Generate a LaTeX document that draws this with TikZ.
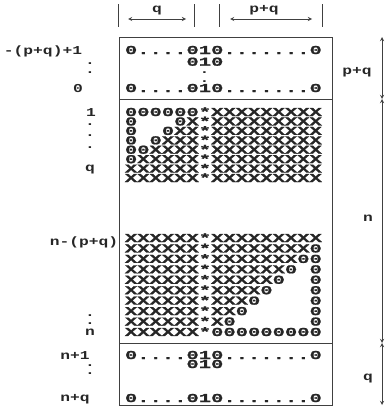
\documentclass[tikz,border=0pt]{standalone}
\usepackage{fontspec}
\newfontfamily\dotfont[FakeStretch=1.7, FakeBold=1.2]{Liberation Mono}
\newfontfamily\labfont[FakeStretch=1.35]{Liberation Mono}
\usetikzlibrary{arrows, positioning}

\begin{document}
\begin{tikzpicture}[x=0.3mm, y=-0.3mm,
    cell/.style={anchor=base west, inner sep=0pt, text=black!85,
        font=\dotfont\bfseries\fontsize{10.3}{12}\selectfont},
    lab/.style={anchor=base, inner sep=0pt, text=black!85,
        font=\labfont\bfseries\fontsize{10.3}{12}\selectfont},
    frame/.style={line width=0.8pt, black!75},
    dim/.style={<->, >=stealth, line width=0.6pt, black!75}]
    \useasboundingbox (0,0) rectangle (385,412);

    % widths of the two column groups
    \draw[frame] (118,4) -- (118,27);
    \draw[frame] (194,4) -- (194,27);
    \coordinate (qL) at (128,19);
    \coordinate (qR) at (186,19);
    \draw[dim] (qL) -- (qR);
    \node[lab] (qtop) at (157,12) {q};
    \draw[frame] (219,4) -- (219,27);
    \draw[frame] (322,4) -- (322,27);
    \coordinate (pqL) at (230,19);
    \coordinate (pqR) at (312,19);
    \draw[dim] (pqL) -- (pqR);
    \node[lab] (pqtop) at (264,13) {p+q};

    % frame of the matrix
    \draw[frame] (119,37) rectangle (332,405);
    \draw[frame] (119,99) -- (332,99);
    \draw[frame] (119,343) -- (332,343);

    % rows -(p+q)+1 .. 0
    \node[cell] (top1) at (124.7,54) {0....010.......0};
    \node[cell] (top2) at (186.2,65.7) {010};
    \node[lab] (topv1) at (204.6,73) {.};
    \node[lab] (topv2) at (204.6,82) {.};
    \node[cell] (top3) at (124.7,92) {0....010.......0};

    % rows 1 .. q and below
    \foreach \r [count=\i] in {000000*XXXXXXXXX, 0\phantom{000}0X*XXXXXXXXX,
        0\phantom{00}0XX*XXXXXXXXX, 0\phantom{0}0XXX*XXXXXXXXX,
        00XXXX*XXXXXXXXX, 0XXXXX*XXXXXXXXX,
        XXXXXX*XXXXXXXXX, XXXXXX*XXXXXXXXX}
        \node[cell] (up\i) at (124.7,{106.57+9.43*\i}) {\r};

    % rows n-(p+q) .. n
    \foreach \r [count=\i] in {XXXXXX*XXXXXXXXX, XXXXXX*XXXXXXXX0,
        XXXXXX*XXXXXXX00, XXXXXX*XXXXXX0\phantom{0}0,
        XXXXXX*XXXXX0\phantom{00}0, XXXXXX*XXXX0\phantom{000}0,
        XXXXXX*XXX0\phantom{0000}0, XXXXXX*XX0\phantom{00000}0,
        XXXXXX*X0\phantom{000000}0, XXXXXX*000000000}
        \node[cell] (lo\i) at (124.7,{231.56+10.44*\i}) {\r};

    % rows n+1 .. n+q
    \node[cell] (bot1) at (124.7,359) {0....010.......0};
    \node[cell] (bot2) at (186.2,368) {010};
    \node[cell] (bot3) at (124.7,402) {0....010.......0};

    % row indices
    \node[lab] (ia) at (43,54) {-(p+q)+1};
    \node[lab] (ib) at (78,92) {0};
    \node[lab] (ic) at (91,116) {1};
    \node[lab] (id) at (90,171) {q};
    \node[lab] (ie) at (84,245) {n-(p+q)};
    \node[lab] (if) at (90,335) {n};
    \node[lab] (ig) at (75,359) {n+1};
    \node[lab] (ih) at (75,401) {n+q};
    \foreach \y in {64,73,125,136,148,316,324,366,374}
        \node[lab] (dot\y) at (90,\y) {.};

    % heights of the three row groups
    \coordinate (r0) at (382,37);
    \coordinate (r1) at (382,99);
    \coordinate (r2) at (382,343);
    \coordinate (r3) at (382,405);
    \draw[dim] (r0) -- (r1);
    \draw[dim] (r1) -- (r2);
    \draw[dim] (r2) -- (r3);
    \node[lab] (hpq) at (357,74) {p+q};
    \node[lab] (hn) at (368,221) {n};
    \node[lab] (hq) at (368,380) {q};
\end{tikzpicture}
\end{document}
